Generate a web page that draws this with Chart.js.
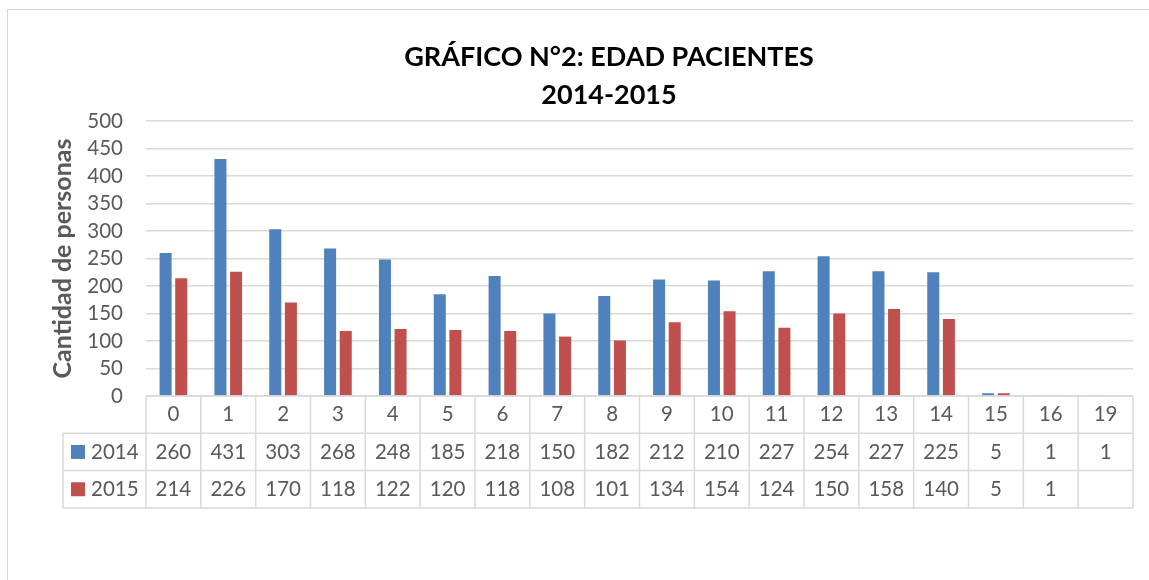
<!DOCTYPE html>
<html>
<head>
<meta charset="utf-8">
<script src="https://cdn.jsdelivr.net/npm/chart.js@4"></script>
<style>
  body { margin: 0; background: #fff; overflow: hidden; width: 1149px; height: 580px; position: relative; }
  #frame { position: absolute; left: 7px; top: 9px; width: 1300px; height: 700px;
           border-left: 1.5px solid #d9d9d9; border-top: 1.5px solid #d9d9d9; }
  #chart { position: absolute; left: 0; top: 0; }
</style>
</head>
<body>
<div id="frame"></div>
<canvas id="chart" width="1149" height="580"></canvas>
<script>
const titleLines = ["GRÁFICO N°2: EDAD PACIENTES", "2014-2015"];
const yTitle = "Cantidad de personas";
const ages = ["0", "1", "2", "3", "4", "5", "6", "7", "8", "9", "10", "11", "12", "13", "14", "15", "16", "19"];
const seriesNames = ["2014", "2015"];
const values2014 = [260, 431, 303, 268, 248, 185, 218, 150, 182, 212, 210, 227, 254, 227, 225, 5, 1, 1];
const values2015 = [214, 226, 170, 118, 122, 120, 118, 108, 101, 134, 154, 124, 150, 158, 140, 5, 1, null];
const colors = ["#4f81bd", "#c0504d"];

const textGray = "#595959";
const lineGray = "#d9d9d9";

// chart title, centred over the whole chart frame like in Excel
const titlePlugin = {
  id: "excelTitle",
  afterDraw(chart) {
    const ctx = chart.ctx;
    ctx.save();
    ctx.font = "bold 27px Lato";
    ctx.fillStyle = "#000";
    ctx.textAlign = "center";
    ctx.textBaseline = "middle";
    ctx.fillText(titleLines[0], 609, 57);
    ctx.fillText(titleLines[1], 609, 95);
    ctx.restore();
  }
};

// data table under the plot (category row + one row per series)
const tablePlugin = {
  id: "dataTable",
  afterDraw(chart) {
    const { ctx, chartArea } = chart;
    const x = chart.scales.x;
    const n = ages.length;
    const cw = (chartArea.right - chartArea.left) / n;
    const top = chartArea.bottom;
    const rowH = 37.3;
    const legendLeft = 63;
    const rows = [values2014, values2015];

    ctx.save();
    ctx.strokeStyle = lineGray;
    ctx.lineWidth = 1.5;
    ctx.beginPath();
    ctx.moveTo(chartArea.left, top);
    ctx.lineTo(chartArea.right, top);
    for (let r = 1; r <= 3; r++) {
      ctx.moveTo(legendLeft, top + r * rowH);
      ctx.lineTo(chartArea.right, top + r * rowH);
    }
    for (let i = 0; i <= n; i++) {
      const px = chartArea.left + i * cw;
      ctx.moveTo(px, top);
      ctx.lineTo(px, top + 3 * rowH);
    }
    ctx.moveTo(legendLeft, top + rowH);
    ctx.lineTo(legendLeft, top + 3 * rowH);
    ctx.stroke();

    ctx.font = "20.5px Lato";
    ctx.fillStyle = textGray;
    ctx.textAlign = "center";
    ctx.textBaseline = "middle";
    ages.forEach((a, i) => {
      const cx = x.getPixelForValue(i);
      ctx.fillText(a, cx, top + rowH / 2);
      rows.forEach((vals, r) => {
        if (vals[i] !== null) ctx.fillText(String(vals[i]), cx, top + rowH * (r + 1.5));
      });
    });

    rows.forEach((vals, r) => {
      const cy = top + rowH * (r + 1.5);
      ctx.fillStyle = colors[r];
      ctx.fillRect(71, cy - 7, 14, 14);
      ctx.fillStyle = textGray;
      ctx.textAlign = "left";
      ctx.fillText(seriesNames[r], 91, cy);
    });
    ctx.restore();
  }
};

new Chart(document.getElementById("chart"), {
  type: "bar",
  data: {
    labels: ages,
    datasets: [
      { label: seriesNames[0], data: values2014, backgroundColor: colors[0] },
      { label: seriesNames[1], data: values2015, backgroundColor: colors[1] }
    ]
  },
  options: {
    responsive: false,
    animation: false,
    events: [],
    layout: { padding: { top: 121, bottom: 184, left: 0, right: 16 } },
    datasets: { bar: { categoryPercentage: 0.57, barPercentage: 0.77 } },
    plugins: { legend: { display: false }, title: { display: false }, tooltip: { enabled: false } },
    scales: {
      x: { display: false },
      y: {
        min: 0,
        max: 500,
        ticks: { stepSize: 50, autoSkip: false, color: textGray, font: { family: "Lato", size: 20.5 }, padding: 23 },
        grid: { color: lineGray, lineWidth: 1.5, drawTicks: false },
        border: { display: false },
        title: {
          display: true,
          text: yTitle,
          color: textGray,
          font: { family: "Lato", size: 25, weight: "bold" },
          padding: { top: 48, bottom: 0 }
        },
        afterFit(scale) { scale.width = 146; }
      }
    }
  },
  plugins: [titlePlugin, tablePlugin]
});
</script>
</body>
</html>
